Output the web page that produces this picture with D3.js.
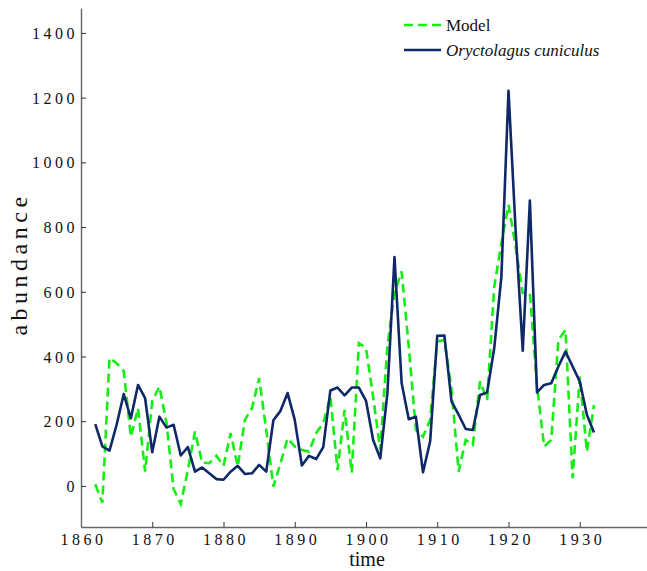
<!DOCTYPE html>
<html>
<head>
<meta charset="utf-8">
<script src="https://cdn.jsdelivr.net/npm/d3@7.9.0/dist/d3.min.js"></script>
<style>
  body { margin: 0; background: #fff; }
  svg text { font-family: "Liberation Serif", "Times New Roman", Times, serif !important; fill: #111; }
</style>
</head>
<body>
<svg id="chart" width="647" height="571"></svg>
<script>
const years = [1862, 1863, 1864, 1865, 1866, 1867, 1868, 1869, 1870, 1871,
  1872, 1873, 1874, 1875, 1876, 1877, 1878, 1879, 1880, 1881,
  1882, 1883, 1884, 1885, 1886, 1887, 1888, 1889, 1890, 1891,
  1892, 1893, 1894, 1895, 1896, 1897, 1898, 1899, 1900, 1901,
  1902, 1903, 1904, 1905, 1906, 1907, 1908, 1909, 1910, 1911,
  1912, 1913, 1914, 1915, 1916, 1917, 1918, 1919, 1920, 1921,
  1922, 1923, 1924, 1925, 1926, 1927, 1928, 1929, 1930, 1931, 1932];

// observed rabbit abundance (solid navy line)
const rabbit = [191, 122, 109, 189, 284, 209, 312, 271, 104, 214,
  180, 189, 94, 120, 44, 57, 39, 21, 19, 44,
  62, 37, 39, 65, 44, 203, 232, 287, 204, 63,
  93, 83, 120, 295, 304, 280, 304, 304, 263, 142,
  85, 285, 707, 318, 206, 214, 42, 137, 464, 465,
  261, 220, 176, 173, 281, 289, 426, 647, 1221, 790,
  418, 882, 289, 312, 317, 369, 415, 369, 323, 220, 165];

// model output (dashed green line)
const model = [5, -52, 395, 379, 355, 152, 240, 44, 262, 307,
  195, -10, -56, 49, 168, 72, 70, 93, 62, 163,
  60, 204, 240, 333, 173, -2, 70, 147, 122, 111,
  106, 163, 194, 276, 49, 235, 41, 441, 426, 276,
  111, 431, 596, 663, 431, 173, 152, 204, 446, 451,
  300, 44, 142, 127, 323, 266, 616, 750, 869, 740,
  596, 596, 310, 122, 142, 451, 482, 24, 338, 106, 250];

const xTicks = [1860, 1870, 1880, 1890, 1900, 1910, 1920, 1930];
const yTicks = [0, 200, 400, 600, 800, 1000, 1200, 1400];

const serif = '"Liberation Serif", "Times New Roman", Times, serif';
const svg = d3.select('#chart');

const x = d3.scaleLinear().domain([1860, 1940]).range([81, 651]);
const y = d3.scaleLinear().domain([-127, 1477]).range([527, 8]);

const axisColor = '#666';

// x axis, ticks pointing inward
const gx = svg.append('g')
  .attr('transform', `translate(0,${y(-127)})`)
  .call(d3.axisBottom(x).tickValues(xTicks).tickSize(-5).tickSizeOuter(0).tickFormat(d3.format('d')));
gx.attr('font-family', serif);
gx.select('.domain').attr('stroke', axisColor).attr('stroke-width', 1.4);
gx.selectAll('.tick line').attr('stroke', '#333').attr('stroke-width', 1);
gx.selectAll('.tick text')
  .attr('y', 18).attr('dy', 0).attr('dx', 2)
  .attr('font-size', 16).attr('letter-spacing', 3.5)
  .attr('fill', '#111');

// y axis
const gy = svg.append('g')
  .attr('transform', `translate(${x(1860)},0)`)
  .call(d3.axisLeft(y).tickValues(yTicks).tickSize(-5).tickSizeOuter(0).tickFormat(d3.format('d')));
gy.attr('font-family', serif);
gy.select('.domain').attr('stroke', axisColor).attr('stroke-width', 1.4);
gy.selectAll('.tick line').attr('stroke', '#333').attr('stroke-width', 1);
gy.selectAll('.tick text')
  .attr('x', -3).attr('dy', '0.35em')
  .attr('font-size', 16).attr('letter-spacing', 3.5)
  .attr('fill', '#111');

// axis titles
svg.append('text')
  .attr('x', 367).attr('y', 566)
  .attr('text-anchor', 'middle')
  .attr('font-size', 20)
  .text('time');

svg.append('text')
  .attr('transform', 'translate(27,264) rotate(-90)')
  .attr('text-anchor', 'middle')
  .attr('font-size', 24).attr('letter-spacing', 4.5)
  .text('abundance');

// lines
const line = d3.line().x((d, i) => x(years[i])).y(d => y(d));

svg.append('path')
  .datum(model)
  .attr('d', line)
  .attr('fill', 'none')
  .attr('stroke', '#14ee14')
  .attr('stroke-width', 2.6)
  .attr('stroke-dasharray', '9,5');

svg.append('path')
  .datum(rabbit)
  .attr('d', line)
  .attr('fill', 'none')
  .attr('stroke', '#0f2868')
  .attr('stroke-width', 2.6)
  .attr('stroke-linejoin', 'round');

// legend
const legend = svg.append('g').attr('font-family', serif);
legend.append('line')
  .attr('x1', 404).attr('x2', 441).attr('y1', 25).attr('y2', 25)
  .attr('stroke', '#14ee14').attr('stroke-width', 2.6).attr('stroke-dasharray', '9,5');
legend.append('text')
  .attr('x', 446).attr('y', 31)
  .attr('font-size', 17)
  .text('Model');
legend.append('line')
  .attr('x1', 404).attr('x2', 441).attr('y1', 50).attr('y2', 50)
  .attr('stroke', '#0f2868').attr('stroke-width', 2.6);
legend.append('text')
  .attr('x', 446).attr('y', 56)
  .attr('font-size', 17).attr('font-style', 'italic')
  .text('Oryctolagus cuniculus');
</script>
</body>
</html>
